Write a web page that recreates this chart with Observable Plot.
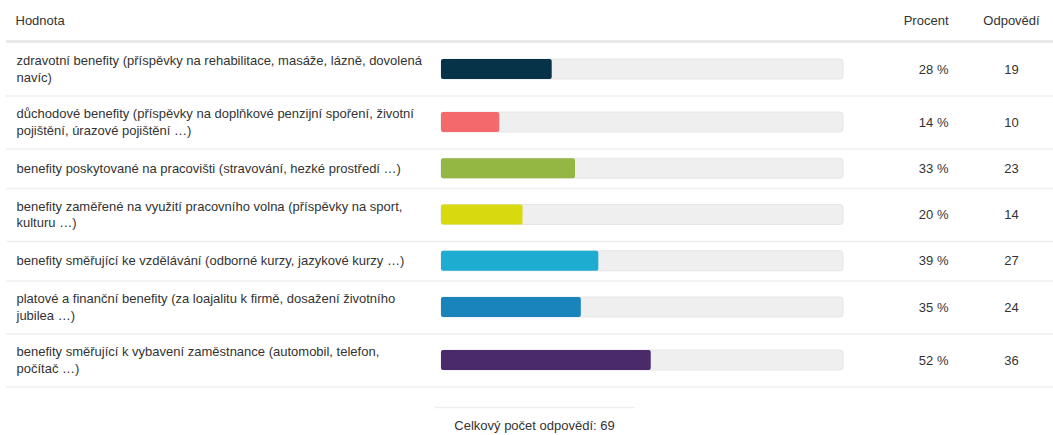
<!DOCTYPE html>
<html>
<head>
<meta charset="utf-8">
<script src="https://cdn.jsdelivr.net/npm/d3@7"></script>
<script src="https://cdn.jsdelivr.net/npm/@observablehq/plot@0.6"></script>
<style>
  html, body { margin: 0; padding: 0; background: #fff; }
  body { font-family: "Liberation Sans", Arial, sans-serif; }
</style>
</head>
<body>
<div id="chart"></div>
<script>
// ---- data ----
const labels = [
  "zdravotní benefity (příspěvky na rehabilitace, masáže, lázně, dovolená\nnavíc)",
  "důchodové benefity (příspěvky na doplňkové penzijní spoření, životní\npojištění, úrazové pojištění …)",
  "benefity poskytované na pracovišti (stravování, hezké prostředí …)",
  "benefity zaměřené na využití pracovního volna (příspěvky na sport,\nkulturu …)",
  "benefity směřující ke vzdělávání (odborné kurzy, jazykové kurzy …)",
  "platové a finanční benefity (za loajalitu k firmě, dosažení životního\njubilea …)",
  "benefity směřující k vybavení zaměstnance (automobil, telefon,\npočítač …)"
];
const percents = [28, 14, 33, 20, 39, 35, 52];
const counts = [19, 10, 23, 14, 27, 24, 36];
const colors = ["#063348", "#f46a6a", "#93b742", "#d8d90f", "#1eacd0", "#1984bc", "#4b2a6c"];
const headers = ["Hodnota", "Procent", "Odpovědí"];
const totalLabel = "Celkový počet odpovědí";
const total = 69;

// ---- layout (row heights follow the number of label lines) ----
const headerBottom = 42.5;
const rowHeight = n => (n > 1 ? 53 : 39.5);
let cursor = headerBottom;
const rows = labels.map((label, i) => {
  const lines = label.split("\n");
  const h = rowHeight(lines.length);
  const r = {label, lines, percent: percents[i], count: counts[i],
             share: counts[i] / total * 100,
             top: cursor, bottom: cursor + h, mid: cursor + h / 2};
  cursor += h;
  return r;
});
const lineData = rows.flatMap(r =>
  r.lines.map((t, j) => ({text: t, y: r.mid + (j - (r.lines.length - 1) / 2) * 16.5}))
);

const textColor = "#333";

const chart = Plot.plot({
  width: 1053,
  height: 435,
  margin: 0,
  x: {domain: [0, 100], range: [441, 843], axis: null},
  y: {domain: [0, 435], range: [0, 435], axis: null},
  color: {domain: labels, range: colors},
  style: {fontFamily: '"Liberation Sans", Arial, sans-serif', fontSize: "13px", background: "#fff", color: textColor},
  marks: [
    // header separator
    Plot.ruleY([41], {stroke: "#e9e9e9", strokeWidth: 3, insetLeft: 6}),
    // row separators
    Plot.ruleY(rows, {y: "bottom", stroke: "#efefef", strokeWidth: 1.5, insetLeft: 6}),
    // tracks
    Plot.rect(rows, {x1: () => 0, x2: () => 100, y1: d => d.mid - 10, y2: d => d.mid + 10,
                     fill: "#efefef", stroke: "#e6e6e6", strokeWidth: 1, rx: 3}),
    // value bars
    Plot.rect(rows, {x1: () => 0, x2: "share", y1: d => d.mid - 10, y2: d => d.mid + 10,
                     fill: "label", rx: 2}),
    // headers
    Plot.text([headers[0]], {text: d => d, y: () => 20, frameAnchor: "left", dx: 15, textAnchor: "start", fill: textColor, fontSize: 13}),
    Plot.text([headers[1]], {text: d => d, y: () => 20, frameAnchor: "right", dx: -105, textAnchor: "end", fill: textColor, fontSize: 13}),
    Plot.text([headers[2]], {text: d => d, y: () => 20, frameAnchor: "right", dx: -42, textAnchor: "middle", fill: textColor, fontSize: 13}),
    // labels
    Plot.text(lineData, {text: "text", y: "y", frameAnchor: "left", dx: 16, textAnchor: "start", fill: textColor, fontSize: 13}),
    // percents
    Plot.text(rows, {text: d => `${d.percent} %`, y: "mid", frameAnchor: "right", dx: -105, textAnchor: "end", fill: textColor, fontSize: 13}),
    // counts
    Plot.text(rows, {text: d => `${d.count}`, y: "mid", frameAnchor: "right", dx: -42, textAnchor: "middle", fill: textColor, fontSize: 13}),
    // footer
    Plot.ruleY([407], {stroke: "#eeeeee", strokeWidth: 1.5, insetLeft: 435, insetRight: 418}),
    Plot.text([`${totalLabel}: ${total}`], {text: d => d, y: () => 425, frameAnchor: "left", dx: 534, textAnchor: "middle", fill: textColor, fontSize: 13})
  ]
});
document.getElementById("chart").appendChild(chart);
</script>
</body>
</html>
